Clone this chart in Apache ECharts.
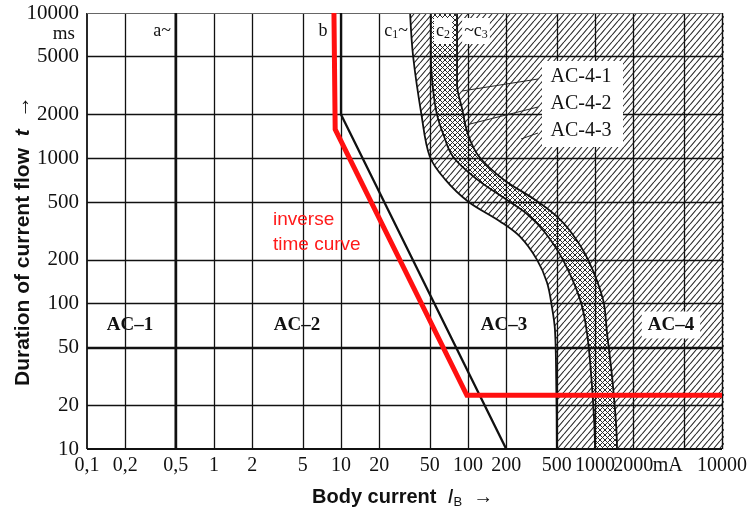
<!DOCTYPE html>
<html><head><meta charset="utf-8">
<script src="https://cdn.jsdelivr.net/npm/echarts@6/dist/echarts.min.js"></script>
<style>html,body{margin:0;padding:0;background:#fff}#c{width:754px;height:515px}</style>
</head><body><div id="c"></div>
<script>
// ---- data ----
const xGridValues = [0.1,0.2,0.5,1,2,5,10,20,50,100,200,500,1000,2000,5000,10000];
const xTickLabels = ['0,1','0,2','0,5','1','2','5','10','20','50','100','200','500','1000','2000','mA','10000'];
const yGridValues = [10,20,50,100,200,500,1000,2000,5000,10000];
const yTickLabels = ['10','20','50','100','200','500','1000','2000','5000','10000'];

const curveA = [[0.5,10],[0.5,10000]];
const curveB = [[10,10000],[10,2000],[200,10]];
const inverseTime = [[8.8,10000],[9,1580],[98,23.4],[10000,23.4]];
const curveC1 = [[35,10000],[37,5000],[43,2000],[50,1030],[66,716],[100,505],[179,368],[256,290],[349,201],[419,140],[458,95],[484,66],[495,30],[500,10]];
const curveC2 = [[51,10000],[51,5000],[53,3000],[57,2000],[64,1460],[76,1030],[118,716],[200,521],[295,411],[404,309],[560,200],[762,107],[865,63],[947,27],[1000,10]];
const curveC3 = [[82,10000],[82,3240],[90,2180],[100,1460],[122,1030],[190,716],[335,521],[480,411],[650,309],[881,201],[1156,107],[1243,63],[1386,27],[1490,10]];

// ---- patterns ----
function hatch(w,h,both,lw,col){
  const c=document.createElement('canvas');c.width=w;c.height=h;
  const g=c.getContext('2d');g.fillStyle='#fff';g.fillRect(0,0,w,h);
  g.strokeStyle=col;g.lineWidth=lw;
  g.beginPath();
  for(const o of [-w,0,w]){g.moveTo(o,h);g.lineTo(o+w,0);}
  if(both){for(const o of [-w,0,w]){g.moveTo(o,0);g.lineTo(o+w,h);}}
  g.stroke();return c;
}
const hatchPat = hatch(6,7,false,1.1,'#2a2a2a');
const crossPat = hatch(5,5,true,1.0,'#2a2a2a');

function toFill(curve){
  const last = curve[curve.length-1][0];
  return curve.concat([[last,4],[20000,4]]);
}
function areaSeries(name,curve,pat,z){
  return {type:'line',name,data:toFill(curve),smooth:0.35,symbol:'none',z,clip:true,silent:true,
    lineStyle:{color:'#111',width:1.8},
    areaStyle:{origin:'end',color:{image:pat,repeat:'repeat'},opacity:1}};
}
const isDecade=v=>Math.abs(Math.log10(v)-Math.round(Math.log10(v)))<1e-6;
function lab(vals,labels,v){const i=vals.findIndex(g=>Math.abs(Math.log10(g)-Math.log10(v))<1e-6);return i>=0?labels[i]:'';}

const serif='"Liberation Serif", "DejaVu Serif", serif';
const sans='"Liberation Sans", Arial, sans-serif';

const xMarks = xGridValues.map(v=>{
  const t=lab(xGridValues,xTickLabels,v);
  return {xAxis:v,
    lineStyle:{width:(v===0.1?1.8:(v===10000?1.4:1.3))},
    label:{show:!isDecade(v),formatter:t,padding:(t==='mA'?[0,32,0,0]:0)}};
});
const yMarks = yGridValues.map(v=>({yAxis:v,
  lineStyle:{width:(v===50?2.3:(v===10?2:(v===10000?1.1:1.3))),color:(v===10000?'#666':'#111')},
  label:{show:!isDecade(v),formatter:lab(yGridValues,yTickLabels,v)}}));

const chart=echarts.init(document.getElementById('c'),null,{renderer:'canvas'});
chart.setOption({
  animation:false,
  backgroundColor:'#fff',
  grid:{left:87,right:32,top:13,bottom:66},
  xAxis:{type:'log',logBase:10,min:0.1,max:10000,
    axisLine:{show:false},axisTick:{show:false},splitLine:{show:false},
    axisLabel:{margin:7,fontFamily:serif,fontSize:20,color:'#111',
      formatter:v=>lab(xGridValues,xTickLabels,v)}},
  yAxis:{type:'log',logBase:10,min:10,max:10000,
    axisLine:{show:false},axisTick:{show:false},splitLine:{show:false},
    axisLabel:{margin:8,fontFamily:serif,fontSize:21,color:'#111',
      formatter:v=>lab(yGridValues,yTickLabels,v)}},
  series:[
    areaSeries('c1',curveC1,hatchPat,1),
    areaSeries('c2',curveC2,crossPat,2),
    areaSeries('c3',curveC3,hatchPat,3),
    {type:'line',name:'grid',data:[],z:4,silent:true,
      markLine:{silent:true,symbol:'none',animation:false,
        lineStyle:{color:'#111',type:'solid',width:1.3},
        label:{position:'start',distance:7,fontFamily:serif,fontSize:20,color:'#111'},
        emphasis:{disabled:true},
        data:xMarks}},
    {type:'line',name:'grid2',data:[],z:4,silent:true,
      markLine:{silent:true,symbol:'none',animation:false,
        lineStyle:{color:'#111',type:'solid',width:1.3},
        label:{position:'start',distance:8,fontFamily:serif,fontSize:21,color:'#111'},
        emphasis:{disabled:true},
        data:yMarks}},
    {type:'line',name:'a',data:curveA,symbol:'none',z:5,lineStyle:{color:'#111',width:2.6}},
    {type:'line',name:'b',data:curveB,symbol:'none',z:5,lineStyle:{color:'#111',width:2.3}},
    {type:'line',name:'inverse time curve',data:inverseTime,symbol:'none',z:6,lineStyle:{color:'#ff1010',width:5,join:'miter'}}
  ],
  graphic:[
    {type:'rect',z:100,shape:{x:542,y:61,width:81,height:86},style:{fill:'#fff'}},
    {type:'line',z:100,shape:{x1:538,y1:79,x2:462,y2:91},style:{stroke:'#222',lineWidth:1}},
    {type:'line',z:100,shape:{x1:538,y1:107,x2:470,y2:124},style:{stroke:'#222',lineWidth:1}},
    {type:'line',z:100,shape:{x1:538,y1:133,x2:521,y2:139},style:{stroke:'#222',lineWidth:1}},
    {type:'text',z:101,x:581,y:77,style:{text:'AC-4-1',font:'20px '+serif,fill:'#111',align:'center',verticalAlign:'middle'}},
    {type:'text',z:101,x:581,y:104,style:{text:'AC-4-2',font:'20px '+serif,fill:'#111',align:'center',verticalAlign:'middle'}},
    {type:'text',z:101,x:581,y:131,style:{text:'AC-4-3',font:'20px '+serif,fill:'#111',align:'center',verticalAlign:'middle'}},
    {type:'text',z:101,x:130,y:325,style:{text:'AC–1',font:'bold 19px '+serif,fill:'#111',align:'center',verticalAlign:'middle'}},
    {type:'text',z:101,x:297,y:325,style:{text:'AC–2',font:'bold 19px '+serif,fill:'#111',align:'center',verticalAlign:'middle'}},
    {type:'text',z:101,x:504,y:325,style:{text:'AC–3',font:'bold 19px '+serif,fill:'#111',align:'center',verticalAlign:'middle'}},
    {type:'text',z:101,x:671,y:325,style:{text:'AC–4',font:'bold 19px '+serif,fill:'#111',align:'center',verticalAlign:'middle',backgroundColor:'#fff',padding:[4,6,4,6]}},
    {type:'text',z:101,x:162,y:31,style:{text:'a~',font:'18px '+serif,fill:'#111',align:'center',verticalAlign:'middle'}},
    {type:'text',z:101,x:323,y:31,style:{text:'b',font:'18px '+serif,fill:'#111',align:'center',verticalAlign:'middle'}},
    {type:'text',z:101,x:396,y:31,style:{text:'c{s|1}~',font:'18px '+serif,fill:'#111',align:'center',verticalAlign:'middle',rich:{s:{fontSize:12,fontFamily:serif,padding:[8,0,0,0]}}}},
    {type:'text',z:101,x:443,y:31,style:{text:'c{s|2}',font:'18px '+serif,fill:'#111',align:'center',verticalAlign:'middle',backgroundColor:'#fff',padding:[3,2,3,2],rich:{s:{fontSize:12,fontFamily:serif,padding:[8,0,0,0]}}}},
    {type:'text',z:101,x:476,y:31,style:{text:'~c{s|3}',font:'18px '+serif,fill:'#111',align:'center',verticalAlign:'middle',backgroundColor:'#fff',padding:[3,2,3,2],rich:{s:{fontSize:12,fontFamily:serif,padding:[8,0,0,0]}}}},
    {type:'text',z:101,x:75,y:34,style:{text:'ms',font:'19px '+serif,fill:'#111',align:'right',verticalAlign:'middle'}},
    {type:'text',z:101,x:273,y:220,style:{text:'inverse',font:'19px '+sans,fill:'#ff1a1a',align:'left',verticalAlign:'middle'}},
    {type:'text',z:101,x:273,y:245,style:{text:'time curve',font:'19px '+sans,fill:'#ff1a1a',align:'left',verticalAlign:'middle'}},
    {type:'text',z:101,x:312,y:497,style:{text:'Body current  {i|I}{s|B}  →',font:'bold 20px '+sans,fill:'#111',align:'left',verticalAlign:'middle',
      rich:{i:{fontStyle:'italic',fontWeight:'normal',fontSize:21,fontFamily:sans},s:{fontSize:13,fontFamily:sans,padding:[10,0,0,0]}}}},
    {type:'text',z:101,x:23,y:386,rotation:Math.PI/2,style:{text:'Duration of current flow  {i|t}  {a|→}',font:'bold 21px '+sans,fill:'#111',align:'left',verticalAlign:'middle',
      rich:{i:{fontStyle:'italic',fontWeight:'bold',fontSize:21,fontFamily:sans},a:{fontWeight:'bold',fontSize:22,fontFamily:sans}}}}
  ]
});
</script></body></html>
